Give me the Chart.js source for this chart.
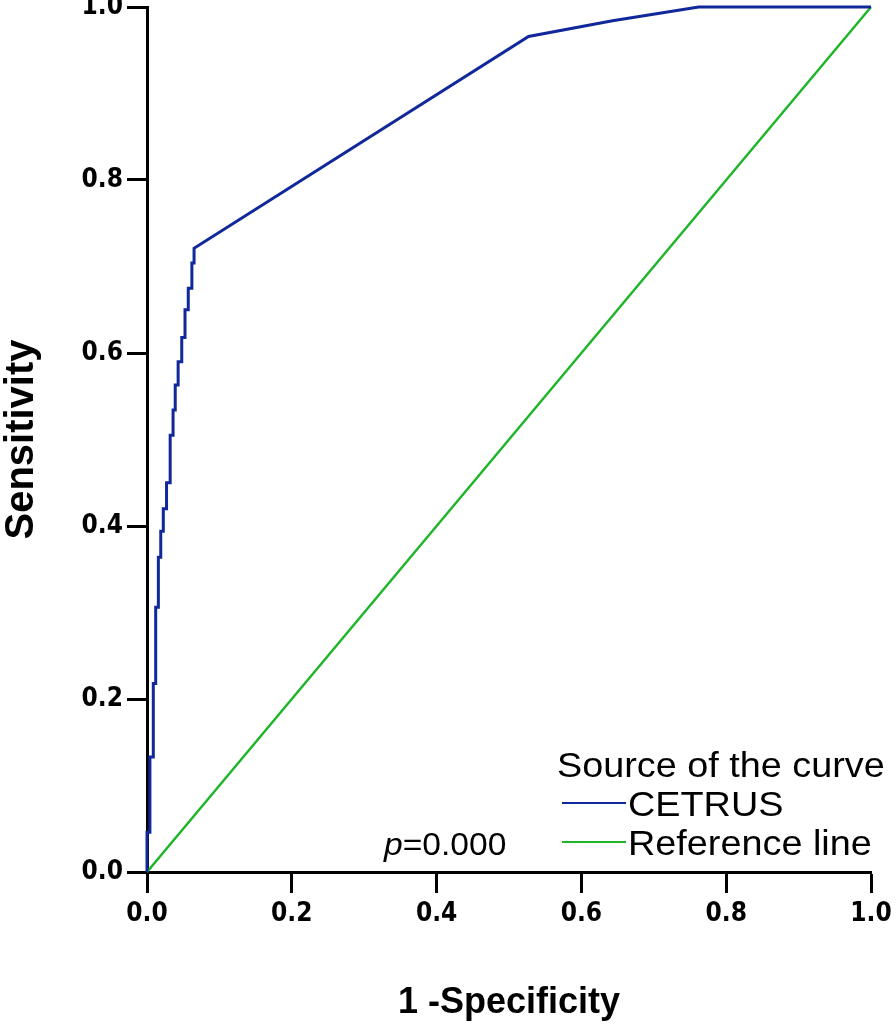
<!DOCTYPE html>
<html><head><meta charset="utf-8">
<script src="https://cdn.jsdelivr.net/npm/chart.js@4.4.1/dist/chart.umd.min.js"></script>
<style>html,body{margin:0;padding:0;background:#fff;}#wrap{width:896px;height:1033px;}</style>
</head><body><div id="wrap"><canvas id="c" width="896" height="1033"></canvas></div>
<script>
// ---- data ----
const seriesLabels = ['CETRUS', 'Reference line'];
const legendTitle = 'Source of the curve';
const pValueText = '=0.000';
const cetrusFPR = [0, 0, 0.004, 0.004, 0.0087, 0.0087, 0.012, 0.012, 0.0157, 0.0157, 0.019, 0.019, 0.0225, 0.0225, 0.027, 0.027, 0.032, 0.032, 0.036, 0.036, 0.039, 0.039, 0.043, 0.043, 0.048, 0.048, 0.0525, 0.0525, 0.057, 0.057, 0.062, 0.062, 0.065, 0.065, 0.527, 0.643, 0.762, 1];
const cetrusTPR = [0, 0.046, 0.046, 0.133, 0.133, 0.218, 0.218, 0.306, 0.306, 0.364, 0.364, 0.394, 0.394, 0.42, 0.42, 0.45, 0.45, 0.505, 0.505, 0.534, 0.534, 0.563, 0.563, 0.59, 0.59, 0.618, 0.618, 0.65, 0.65, 0.675, 0.675, 0.704, 0.704, 0.721, 0.966, 0.984, 1, 1];
const refFPR = [0, 1];
const refTPR = [0, 1];
const xTickLabels = ['0.0', '0.2', '0.4', '0.6', '0.8', '1.0'];
const yTickLabels = ['0.0', '0.2', '0.4', '0.6', '0.8', '1.0'];
const xTitle = '1 -Specificity';
const yTitle = 'Sensitivity';

const toPoints = (xs, ys) => xs.map((x, i) => ({x: x, y: ys[i]}));

const legendPlugin = {
  id: 'rocLegend',
  afterDraw(chart) {
    const ctx = chart.ctx;
    const ds = chart.data.datasets;
    const sx = 1.08;
    ctx.save();
    ctx.fillStyle = '#000';
    ctx.textBaseline = 'alphabetic';
    ctx.textAlign = 'left';
    const drawText = (txt, x, y, font, s) => {
      ctx.save();
      ctx.translate(x, y);
      ctx.scale(s, 1);
      ctx.font = font;
      ctx.fillText(txt, 0, 0);
      ctx.restore();
    };
    const f = '35px "Liberation Sans", Arial, sans-serif';
    drawText(legendTitle, 557, 777, f, sx);
    const rows = [{y: 803, tb: 816}, {y: 842, tb: 855}];
    ds.forEach((d, i) => {
      ctx.strokeStyle = d.borderColor;
      ctx.lineWidth = 2;
      ctx.beginPath();
      ctx.moveTo(562, rows[i].y);
      ctx.lineTo(626, rows[i].y);
      ctx.stroke();
      drawText(d.label, 628, rows[i].tb, f, sx);
    });
    // p-value annotation
    ctx.save();
    ctx.translate(384, 855);
    ctx.scale(1.05, 1);
    ctx.font = 'italic 32px "Liberation Sans", Arial, sans-serif';
    ctx.fillText('p', 0, 0);
    const pw = ctx.measureText('p').width;
    ctx.font = '32px "Liberation Sans", Arial, sans-serif';
    ctx.fillText(pValueText, pw, 0);
    ctx.restore();
    ctx.restore();
  }
};

const tickFont = {family: '"Liberation Sans Narrow", "Arial Narrow", "DejaVu Sans Condensed", sans-serif', size: 26, weight: 'bold'};

new Chart(document.getElementById('c'), {
  type: 'scatter',
  data: {
    datasets: [
      {label: seriesLabels[0], data: toPoints(cetrusFPR, cetrusTPR), showLine: true, borderColor: '#10289a', borderWidth: 3, pointRadius: 0, fill: false, tension: 0, clip: false, order: 1},
      {label: seriesLabels[1], data: toPoints(refFPR, refTPR), showLine: true, borderColor: '#1fb52b', borderWidth: 2.5, pointRadius: 0, fill: false, tension: 0, clip: false, order: 2}
    ]
  },
  options: {
    responsive: false,
    animation: false,
    devicePixelRatio: 1,
    layout: {padding: {top: 7, right: 25, left: 0, bottom: 0}},
    plugins: {legend: {display: false}, tooltip: {enabled: false}},
    scales: {
      x: {
        type: 'linear', min: 0, max: 1, position: 'bottom',
        afterFit(s) { s.height = 161; s.paddingLeft = 0; s.paddingRight = 0; },
        afterBuildTicks(s) { s.ticks = xTickLabels.map(t => ({value: parseFloat(t)})); },
        ticks: {color: '#000', font: tickFont, padding: 6, maxRotation: 0, autoSkip: false,
          callback: (v, i) => xTickLabels[i]},
        grid: {drawOnChartArea: false, drawTicks: true, tickLength: 21, tickWidth: 3, tickColor: '#000'},
        border: {display: true, color: '#000', width: 3},
        title: {display: true, text: xTitle, color: '#000', padding: {top: 0, bottom: 8},
          font: {family: '"Liberation Sans", Arial, sans-serif', size: 36, weight: 'bold', lineHeight: 1.2}}
      },
      y: {
        type: 'linear', min: 0, max: 1, position: 'left',
        afterFit(s) { s.width = 147; s.paddingTop = 0; s.paddingBottom = 0; },
        afterBuildTicks(s) { s.ticks = yTickLabels.map(t => ({value: parseFloat(t)})); },
        ticks: {color: '#000', font: tickFont, padding: 4, autoSkip: false,
          callback: (v, i) => yTickLabels[i]},
        grid: {drawOnChartArea: false, drawTicks: true, tickLength: 20, tickWidth: 3, tickColor: '#000'},
        border: {display: true, color: '#000', width: 3},
        title: {display: true, text: yTitle, color: '#000', padding: {top: 0, bottom: 0},
          font: {family: '"Liberation Sans", Arial, sans-serif', size: 40, weight: 'bold', lineHeight: 1.1}}
      }
    }
  },
  plugins: [legendPlugin]
});
</script>
</body></html>
